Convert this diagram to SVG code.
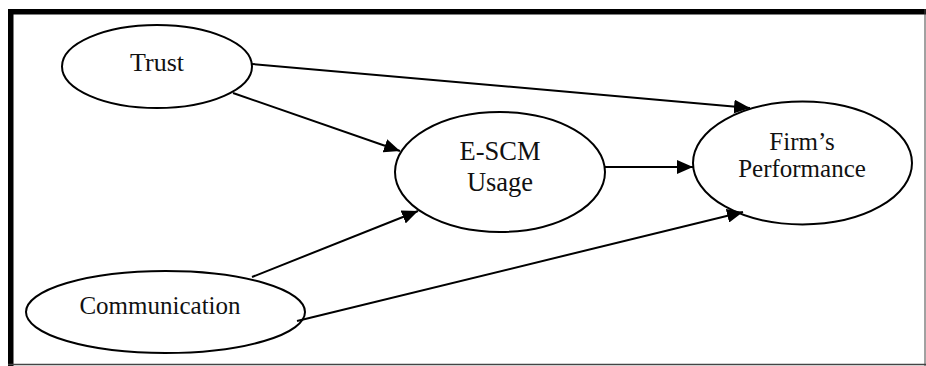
<svg xmlns="http://www.w3.org/2000/svg" width="926" height="366" viewBox="0 0 926 366">
<defs>
<style>
.node ellipse{fill:#fff;stroke:#000;stroke-width:2}
.node text{font-family:"Liberation Serif","Times New Roman",serif;font-size:25px;fill:#111;text-anchor:middle}
.edge{stroke:#000;stroke-width:2;fill:none;marker-end:url(#ah)}
</style>
<marker id="ah" markerUnits="userSpaceOnUse" markerWidth="18" markerHeight="14" refX="16" refY="7" orient="auto">
<path d="M0,0 L16,7 L0,14 Z" fill="#000"/>
</marker>
</defs>
<rect x="0" y="0" width="926" height="366" fill="#fff"/>
<g id="frame">
<rect x="8" y="9" width="918" height="5.5" fill="#000"/>
<rect x="8" y="9" width="5.5" height="357" fill="#000"/>
<line x1="8" y1="364.5" x2="926" y2="364.5" stroke="#444" stroke-width="1.5"/>
<line x1="925" y1="9" x2="925" y2="366" stroke="#444" stroke-width="1"/>
</g>
<g id="trust" class="node">
<ellipse cx="157" cy="66.5" rx="95" ry="41.5"/>
<text x="157" y="71" style="font-size:26px">Trust</text>
</g>
<g id="communication" class="node">
<ellipse cx="165.5" cy="312" rx="139.5" ry="41"/>
<text x="160" y="314">Communication</text>
</g>
<g id="escm" class="node">
<ellipse cx="500" cy="172" rx="105" ry="60"/>
<text x="500" y="160" style="font-size:26.5px">E-SCM</text>
<text x="500" y="191" style="font-size:26.5px">Usage</text>
</g>
<g id="firm" class="node">
<ellipse cx="802.5" cy="163" rx="109.5" ry="61.5"/>
<text x="802" y="150">Firm’s</text>
<text x="802" y="177">Performance</text>
</g>
<g id="connectors">
<line class="edge" x1="252" y1="64" x2="750" y2="108"/>
<line class="edge" x1="233" y1="93" x2="400" y2="151"/>
<line class="edge" x1="605" y1="167" x2="693" y2="167"/>
<line class="edge" x1="252" y1="277" x2="418" y2="211"/>
<line class="edge" x1="297" y1="321" x2="743" y2="212"/>
</g>
</svg>
